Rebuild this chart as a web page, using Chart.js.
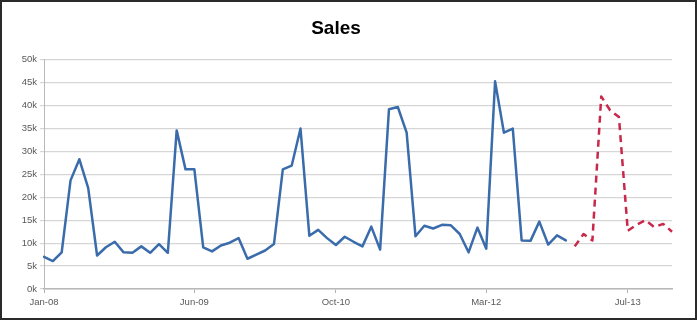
<!DOCTYPE html>
<html>
<head>
<meta charset="utf-8">
<script src="https://cdn.jsdelivr.net/npm/chart.js@4"></script>
<style>
  body { margin: 0; background: #fff; }
  #wrap { position: relative; width: 697px; height: 320px; }
  #salesChart { position: absolute; left: 0; top: 0; }
  #frame { position: absolute; inset: 0; border: 2px solid #2a2a2a; pointer-events: none; }
</style>
</head>
<body>
<div id="wrap">
  <canvas id="salesChart" width="697" height="320"></canvas>
  <div id="frame"></div>
</div>
<script>
'use strict';

// ── Data ────────────────────────────────────────────────
const monthNames = ['Jan', 'Feb', 'Mar', 'Apr', 'May', 'Jun', 'Jul', 'Aug', 'Sep', 'Oct', 'Nov', 'Dec'];
const years = ['08', '09', '10', '11', '12', '13'];

// Monthly sales, Jan-08 .. Dec-12
const actualSales = [
    7000, 6100, 8000, 23700, 28300, 22000, 7300, 9100, 10300, 8000, 7900, 9300,
    7900, 9800, 7900, 34600, 26100, 26100, 9100, 8200, 9500, 10100, 11100, 6600,
    7500, 8400, 9800, 26100, 26900, 35000, 11600, 12900, 11100, 9600, 11400, 10300,
    9300, 13600, 8600, 39200, 39700, 34100, 11500, 13800, 13200, 14000, 13900, 12000,
    8000, 13400, 8800, 45300, 34100, 35000, 10600, 10500, 14700, 9700, 11700, 10600
];

// Forecast, Jan-13 .. Dec-13
const forecastSales = [9300, 12000, 10600, 42000, 39000, 37500, 12700, 14000, 15000, 13500, 14200, 12500];

const shownTicks = ['Jan-08', 'Jun-09', 'Oct-10', 'Mar-12', 'Jul-13'];

// ── Build chart ─────────────────────────────────────────
const labels = [];
years.forEach(y => monthNames.forEach(m => labels.push(m + '-' + y)));

const actualData = actualSales.concat(forecastSales.map(() => null));
const forecastData = actualSales.map(() => null).concat(forecastSales);

const textColor = '#595959';
const gridColor = '#d6d6d6';
const tickFont = { family: 'Liberation Sans, Arial, sans-serif', size: 9.5 };

new Chart(document.getElementById('salesChart'), {
    type: 'line',
    data: {
        labels: labels,
        datasets: [
            {
                label: 'Sales',
                data: actualData,
                borderColor: '#3a6cab',
                borderWidth: 2.5,
                borderJoinStyle: 'round',
                borderCapStyle: 'round',
                pointRadius: 0,
                tension: 0,
                spanGaps: false,
            },
            {
                label: 'Forecast',
                data: forecastData,
                borderColor: '#c8284a',
                borderWidth: 2.5,
                borderDash: [7, 5],
                borderJoinStyle: 'round',
                pointRadius: 0,
                tension: 0,
                spanGaps: false,
            },
        ],
    },
    options: {
        responsive: false,
        animation: false,
        layout: { padding: { left: 0, right: 25, top: 0, bottom: 0 } },
        plugins: {
            legend: { display: false },
            tooltip: { enabled: false },
            title: {
                display: true,
                text: 'Sales',
                color: '#000',
                font: { family: 'Liberation Sans, Arial, sans-serif', size: 19, weight: 'bold' },
                padding: { top: 17, bottom: 20 },
            },
        },
        scales: {
            x: {
                offset: false,
                grid: {
                    drawOnChartArea: false,
                    tickLength: 4,
                    color: ctx => (ctx.tick && shownTicks.includes(labels[ctx.tick.value]) ? '#b0b0b0' : 'rgba(0,0,0,0)'),
                },
                border: { color: '#b8b8b8', width: 1.5 },
                ticks: {
                    autoSkip: false,
                    maxRotation: 0,
                    padding: 4,
                    color: textColor,
                    font: tickFont,
                    callback: (value) => (shownTicks.includes(labels[value]) ? labels[value] : ''),
                },
                afterFit: scale => { scale.height = 31; },
            },
            y: {
                min: 0,
                max: 50000,
                grid: { color: gridColor, lineWidth: 1.2, tickLength: 4 },
                border: { color: '#b8b8b8', width: 1 },
                ticks: {
                    stepSize: 5000,
                    padding: 3,
                    color: textColor,
                    font: tickFont,
                    callback: value => (value / 1000) + 'k',
                },
                afterFit: scale => { scale.width = 44; },
            },
        },
    },
});
</script>
</body>
</html>
